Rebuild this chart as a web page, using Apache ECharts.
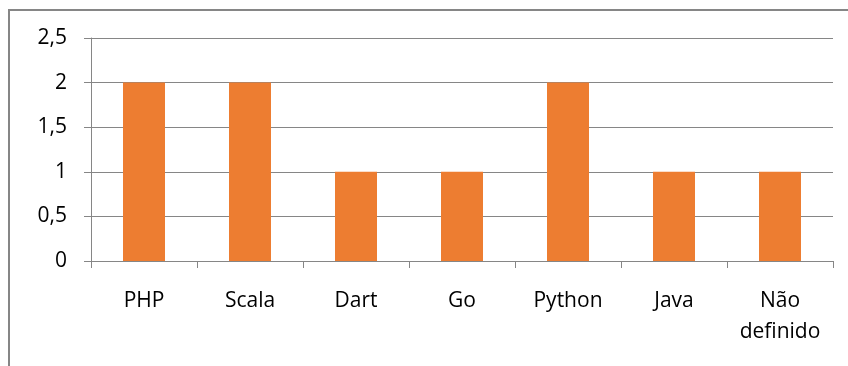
<!DOCTYPE html>
<html>
<head>
<meta charset="utf-8">
<script src="https://cdn.jsdelivr.net/npm/echarts@6/dist/echarts.min.js"></script>
<style>
html,body{margin:0;padding:0;background:#fff;}
#c{width:848px;height:366px;}
</style>
</head>
<body>
<div id="c"></div>
<script>
var categories = ['PHP', 'Scala', 'Dart', 'Go', 'Python', 'Java', 'Não\ndefinido'];
var values = [2, 2, 1, 1, 2, 1, 1];
var yTicks = { min: 0, max: 2.5, interval: 0.5 };

var chart = echarts.init(document.getElementById('c'), null, { renderer: 'canvas' });
var font = '"Open Sans", sans-serif';
chart.setOption({
  animation: false,
  backgroundColor: '#ffffff',
  graphic: [{
    type: 'rect',
    shape: { x: 9, y: 10, width: 900, height: 420 },
    style: { fill: 'none', stroke: '#868686', lineWidth: 2 },
    silent: true
  }],
  grid: { left: 91, right: 15, top: 38, bottom: 105, containLabel: false },
  xAxis: {
    type: 'category',
    data: categories,
    axisLine: { show: true, lineStyle: { color: '#868686', width: 1 } },
    axisTick: { show: true, length: 7, lineStyle: { color: '#868686' } },
    axisLabel: { margin: 25, color: '#000', fontFamily: font, fontSize: 21, lineHeight: 31, interval: 0 }
  },
  yAxis: {
    type: 'value',
    min: yTicks.min, max: yTicks.max, interval: yTicks.interval,
    axisLine: { show: true, lineStyle: { color: '#868686', width: 1 } },
    axisTick: { show: true, length: 7, lineStyle: { color: '#868686' } },
    splitLine: { show: true, lineStyle: { color: '#868686', width: 1 } },
    axisLabel: {
      margin: 24, color: '#000', fontFamily: font, fontSize: 21,
      formatter: function (v) { return String(v).replace('.', ','); }
    }
  },
  series: [{
    type: 'bar',
    data: values,
    barWidth: 42,
    itemStyle: { color: '#ED7D31' }
  }]
});
</script>
</body>
</html>
